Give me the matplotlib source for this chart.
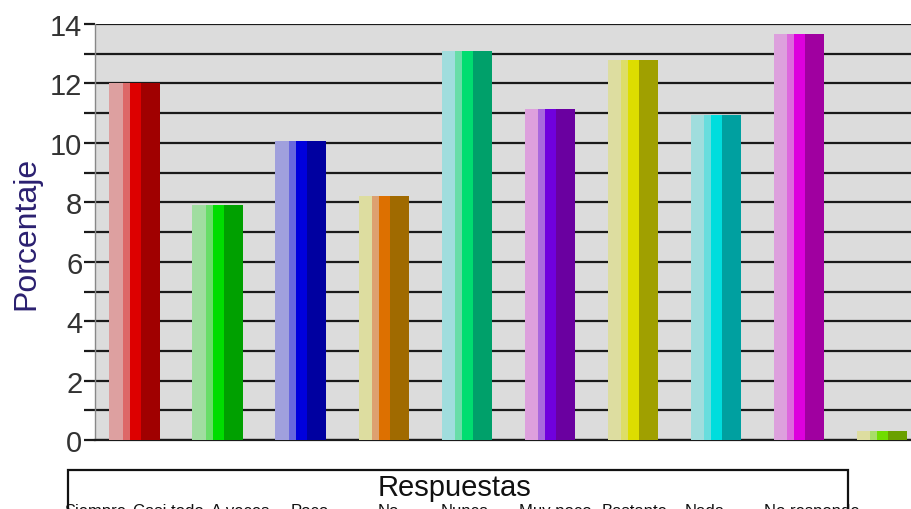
import matplotlib
matplotlib.use("Agg")
import matplotlib.pyplot as plt
from matplotlib.patches import Rectangle
import numpy as np

plt.rcParams['font.family'] = ['Liberation Sans', 'DejaVu Sans']

# datos
valores = [12.0, 7.9, 10.05, 8.2, 13.1, 11.15, 12.8, 10.95, 13.65, 0.3]
etiquetas = ["Siempre", "Casi todo", "A veces", "Poco", "No",
             "Nunca", "Muy poco", "Bastante", "Nada", "No responde"]
pos_etq = [95, 168, 240, 310, 388, 465, 555, 635, 705, 812]
colores = [
    ["#DDA0A0", "#DD6868", "#DD0000", "#A00000"],
    ["#A0DDA0", "#68DD68", "#00DD00", "#00A000"],
    ["#A0A0DD", "#6868DD", "#0000DD", "#0000A0"],
    ["#DDDDA0", "#DDA070", "#DD7000", "#A06A00"],
    ["#A0DDDD", "#68DDA8", "#00DD70", "#00A06A"],
    ["#DDA0DD", "#A868DD", "#7000DD", "#6A00A0"],
    ["#DDDDA0", "#DDDD68", "#DDDD00", "#A0A000"],
    ["#A0DDDD", "#68DDDD", "#00DDDD", "#00A0A0"],
    ["#DDA0DD", "#DD68DD", "#DD00DD", "#A000A0"],
    ["#DDDDA0", "#A8DD68", "#70DD00", "#6AA000"],
]
bandas = [0.26, 0.14, 0.22, 0.38]  # proporcion de cada franja

fig = plt.figure(figsize=(9.12, 5.10), dpi=100)
ax = fig.add_axes([0.104, 0.135, 0.896, 0.816])
ax.set_facecolor("#DCDCDC")

x = np.arange(len(valores))
ancho = 0.61
izq = x - ancho / 2
for k in range(4):
    w = bandas[k] * ancho
    ax.bar(izq, valores, width=w, align="edge",
           color=[c[k] for c in colores], linewidth=0, zorder=3)
    izq = izq + w

ax.set_xlim(-0.48, 9.36)
ax.set_ylim(0, 14)
ax.set_yticks(range(0, 15, 2))
ax.set_yticks(range(1, 15, 2), minor=True)
ax.yaxis.grid(True, which="both", color="#1a1a1a", linewidth=1.6, zorder=1)
ax.tick_params(axis="y", which="both", length=8, width=1.6, color="#1a1a1a",
               labelsize=21, labelcolor="#333333", pad=1)
ax.set_xticks([])
for s in ["top", "right"]:
    ax.spines[s].set_visible(False)
ax.spines["left"].set_color("#888888")
ax.spines["left"].set_linewidth(1)
ax.spines["bottom"].set_color("#1a1a1a")
ax.spines["bottom"].set_linewidth(1.6)
ax.set_ylabel("Porcentaje", fontsize=23, color="#2B2070", labelpad=6)

# caja inferior con el titulo de las respuestas
caja = Rectangle((68 / 912, -0.1), (848 - 68) / 912, 0.1 + (510 - 471) / 510,
                 transform=fig.transFigure, fill=False, edgecolor="#111111",
                 linewidth=1.6)
fig.patches.append(caja)
fig.text(455 / 912, 1 - 488 / 510, "Respuestas", ha="center", va="center",
         fontsize=21, color="#111111")
for px, t in zip(pos_etq, etiquetas):
    fig.text(px / 912, 1 - 504 / 510, t, ha="center", va="top",
             fontsize=12, color="#111111")

fig.savefig("out.png", dpi=100)
